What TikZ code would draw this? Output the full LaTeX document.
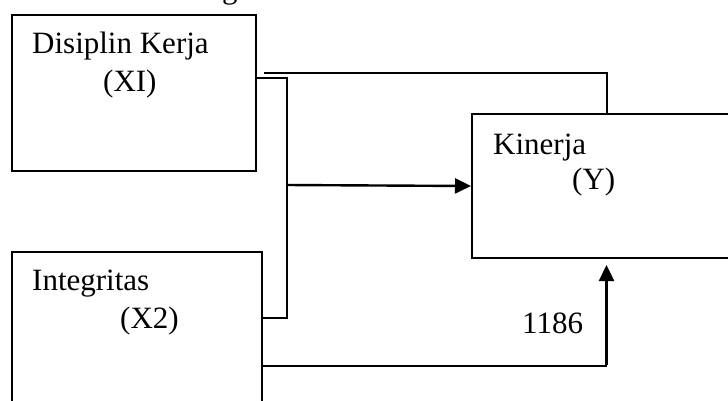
\documentclass[tikz,border=0pt]{standalone}
\usepackage{fontspec}
\setmainfont{Liberation Serif}
\usetikzlibrary{arrows.meta,calc}
\begin{document}
\begin{tikzpicture}[x=1pt,y=-1pt,
  box/.style={draw,line width=2pt,rectangle,anchor=north west,inner sep=0pt},
  lbl/.style={anchor=base west,inner sep=0pt,font=\fontsize{31}{37}\selectfont},
  link/.style={line width=2pt},
  arr/.style={line width=2.4pt,-{Triangle[length=16pt,width=15pt]}}]
\useasboundingbox (0,0) rectangle (728,400);

% variable boxes
\node[box,minimum width=244pt,minimum height=156pt] (b1) at (11,14) {};
\node[box,minimum width=250pt,minimum height=170pt] (b2) at (11,251) {};
\node[box,minimum width=269pt,minimum height=144pt] (by) at (471,113) {};

% labels
\node[lbl] (gfrag) at (222,-2) {g};
\node[lbl] (t1) at (32,53) {Disiplin Kerja};
\node[lbl] (t1b) at (103,91) {(XI)};
\node[lbl] (t2) at (32,290) {Integritas};
\node[lbl] (t2b) at (120,328) {(X2)};
\node[lbl] (ty) at (493,154) {Kinerja};
\node[lbl] (tyb) at (572,189) {(Y)};
\node[lbl] (val) at (522,333) {1186};

% junction points
\coordinate (j1) at (287,77.7);
\coordinate (j2) at (287,318);
\coordinate (jm) at (287,185);

% X1 directly to Y
\draw[link] ($(b1.east |- 0,72.7)+(7,0)$) -| (by.north);
% joint bracket of X1 and X2 into Y
\draw[link] (b1.east |- j1) -- (j1) -- (j2) -- (b2.east |- j2);
\draw[arr] (jm) -- (by.west);
% X2 to Y from below, stopping short of the box
\draw[link] (b2.east |- 0,366) -- (by.south |- 0,366) coordinate (jb);
\draw[arr] ([yshift=1pt]jb) -- ([yshift=-6pt]by.south);
\end{tikzpicture}
\end{document}
